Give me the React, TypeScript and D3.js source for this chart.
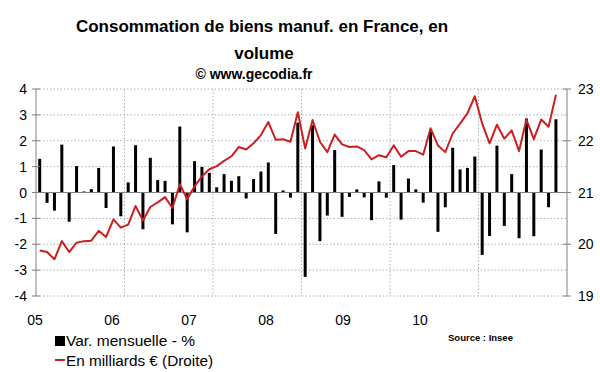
import React from "react";
import * as d3 from "d3";

const varMensuelle: number[] = [
  1.3, -0.4, -0.7, 1.85, -1.13, 1.02, 0.04, 0.13, 0.95, -0.6,
  1.78, -0.92, 0.39, 1.83, -1.42, 1.34, 0.48, 0.45, -1.23, 2.55,
  -1.54, 1.21, 0.99, 0.76, 0.2, 0.71, 0.45, 0.63, -0.23, 0.52,
  0.81, 1.16, -1.6, 0.08, -0.2, 2.7, -3.26, 2.6, -1.88, -0.89,
  1.64, -0.94, -0.17, 0.12, -0.19, -1.07, 0.43, -0.2, 1.06, -1.05,
  0.54, 0.12, -0.39, 2.45, -1.52, -0.57, 1.73, 0.89, 0.95, 1.39,
  -2.41, -1.68, 1.81, -1.29, 0.71, -1.77, 2.86, -1.69, 1.66, -0.57, 2.83,
];

const milliards: number[] = [
  19.88, 19.85, 19.71, 20.06, 19.85, 20.03, 20.06, 20.07, 20.26, 20.14,
  20.48, 20.32, 20.38, 20.74, 20.46, 20.72, 20.81, 20.91, 20.7, 21.16,
  20.87, 21.12, 21.31, 21.45, 21.51, 21.61, 21.7, 21.88, 21.83, 21.95,
  22.11, 22.36, 22.02, 22.03, 21.98, 22.55, 21.85, 22.4, 21.98, 21.78,
  22.12, 21.93, 21.88, 21.89, 21.82, 21.64, 21.72, 21.68, 21.91, 21.69,
  21.8, 21.8, 21.73, 22.24, 21.91, 21.78, 22.14, 22.33, 22.53, 22.86,
  22.33, 21.95, 22.31, 22.04, 22.2, 21.8, 22.41, 22.03, 22.41, 22.27, 22.89,
];

const yearLabels: string[] = ["05", "06", "07", "08", "09", "10"];
const leftTicks: number[] = [-4, -3, -2, -1, 0, 1, 2, 3, 4];
const rightTicks: number[] = [19, 20, 21, 22, 23];
const nMonths = 72;

const FONT = "'Liberation Sans', Arial, sans-serif";

export default function App() {
  const left = 36;
  const right = 567;
  const top = 89;
  const bottom = 296;

  const x = d3.scaleBand<number>().domain(d3.range(nMonths)).range([left, right]);
  const yL = d3.scaleLinear().domain([-4, 4]).range([bottom, top]);
  const yR = d3.scaleLinear().domain([19, 23]).range([bottom, top]);
  const labelX = d3.scaleLinear().domain([0, 7]).range([35, 574]);
  const cx = (i: number) => (x(i) as number) + x.bandwidth() / 2;

  const line = d3
    .line<number>()
    .x((_, i) => cx(i))
    .y((d) => yR(d));

  const barW = 3;
  const yearGrid = d3.range(1, 6).map((k) => x(k * 12) as number);

  return (
    <svg
      width={600}
      height={372}
      style={{ position: "absolute", left: 0, top: 0, background: "#fff" }}
      fontFamily={FONT}
    >
      <rect x={0} y={0} width={600} height={372} fill="#fff" />
      {/* titles */}
      <text x={262} y={32} textAnchor="middle" fontSize={17} fontWeight="bold" fill="#000">
        Consommation de biens manuf. en France, en
      </text>
      <text x={264} y={59} textAnchor="middle" fontSize={17} fontWeight="bold" fill="#000">
        volume
      </text>
      <text x={254} y={79} textAnchor="middle" fontSize={14} fontWeight="bold" fill="#000">
        © www.gecodia.fr
      </text>

      {/* horizontal grid */}
      {leftTicks.map((t) =>
        t === 0 ? null : (
          <line
            key={"h" + t}
            x1={left}
            x2={right}
            y1={yL(t)}
            y2={yL(t)}
            stroke="#b0b0b0"
            strokeWidth={1}
            strokeDasharray="1.5,2"
          />
        )
      )}
      {/* vertical grid */}
      {yearGrid.map((gx, i) => (
        <line
          key={"v" + i}
          x1={gx}
          x2={gx}
          y1={top}
          y2={bottom}
          stroke="#b0b0b0"
          strokeWidth={1}
          strokeDasharray="1.5,2"
        />
      ))}

      {/* bars */}
      {varMensuelle.map((v, i) => (
        <rect
          key={"b" + i}
          x={cx(i) - barW / 2}
          width={barW}
          y={Math.min(yL(v), yL(0))}
          height={Math.abs(yL(v) - yL(0))}
          fill="#000"
        />
      ))}

      {/* zero line */}
      <line x1={left} x2={right} y1={yL(0)} y2={yL(0)} stroke="#808080" strokeWidth={1} />

      {/* red line */}
      <path d={line(milliards) || ""} fill="none" stroke="#cc1f1f" strokeWidth={2} strokeLinejoin="round" />

      {/* left axis */}
      <line x1={left} x2={left} y1={top} y2={bottom} stroke="#808080" strokeWidth={1} />
      {leftTicks.map((t) => (
        <g key={"lt" + t}>
          <line x1={left - 4} x2={left + 4} y1={yL(t)} y2={yL(t)} stroke="#808080" strokeWidth={1} />
          <text x={27} y={yL(t) + 5} textAnchor="end" fontSize={14} fill="#000">
            {t}
          </text>
        </g>
      ))}

      {/* right axis */}
      <line x1={right} x2={right} y1={top} y2={bottom} stroke="#808080" strokeWidth={1} />
      {rightTicks.map((t) => (
        <g key={"rt" + t}>
          <line x1={right - 4} x2={right + 4} y1={yR(t)} y2={yR(t)} stroke="#808080" strokeWidth={1} />
          <text x={578} y={yR(t) + 5} textAnchor="start" fontSize={14} fill="#000">
            {t}
          </text>
        </g>
      ))}

      {/* x labels */}
      {yearLabels.map((l, i) => (
        <text key={"xl" + l} x={labelX(i)} y={325} textAnchor="middle" fontSize={14} fill="#000">
          {l}
        </text>
      ))}

      {/* legend */}
      <rect x={55} y={336} width={10} height={10} fill="#000" />
      <text x={66} y={346} fontSize={15.5} fill="#000">
        Var. mensuelle - %
      </text>
      <line x1={55} x2={65} y1={360} y2={360} stroke="#cc1f1f" strokeWidth={2} />
      <text x={66} y={366} fontSize={15.3} fill="#000">
        En milliards € (Droite)
      </text>

      <text x={448} y={341} fontSize={9.5} fontWeight="bold" fill="#000">
        Source : Insee
      </text>
    </svg>
  );
}
